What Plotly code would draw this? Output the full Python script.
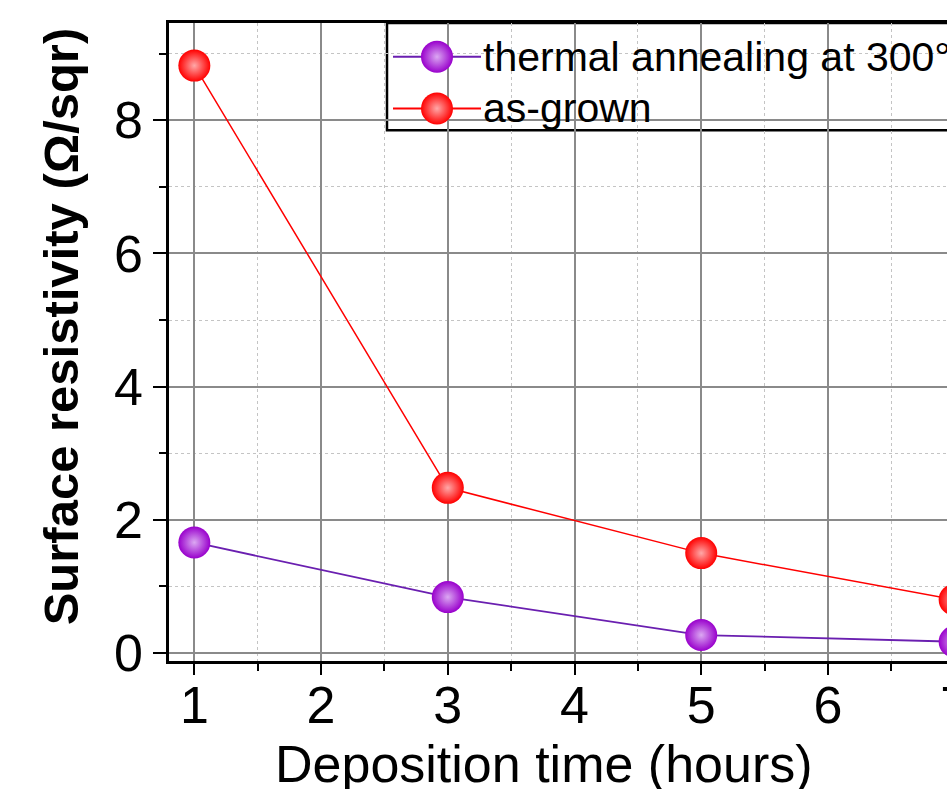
import plotly.graph_objects as go

# ---- data ----
hours = [1, 3, 5, 7]
annealed = [1.66, 0.84, 0.27, 0.17]
as_grown = [8.82, 2.48, 1.50, 0.80]
series_names = ["thermal annealing at 300°C", "as-grown"]
x_ticks = [1, 2, 3, 4, 5, 6, 7]
y_ticks = [0, 2, 4, 6, 8]

PURPLE = "#9900CC"
PURPLE_LINE = "#6A1FB0"
RED = "#FF0000"
FONT = "Liberation Sans, Arial, sans-serif"

# layout geometry (pixels); figure is wider than the 947px window, as the reference is cropped
FIG_W, FIG_H = 980, 789
M_L, M_R, M_T, M_B = 169, 0, 23, 128
PLOT_W = FIG_W - M_L - M_R


def fx(px):
    return (px - M_L) / PLOT_W


fig = go.Figure()

fig.add_trace(go.Scatter(
    x=hours, y=annealed, mode="lines+markers", name=series_names[0],
    line=dict(color=PURPLE_LINE, width=1.8),
    marker=dict(size=32, color=PURPLE, gradient=dict(type="radial", color="#dba8f2")),
    showlegend=False))
fig.add_trace(go.Scatter(
    x=hours, y=as_grown, mode="lines+markers", name=series_names[1],
    line=dict(color=RED, width=1.5),
    marker=dict(size=32, color=RED, gradient=dict(type="radial", color="#ffa8a8")),
    showlegend=False))

# ---- custom legend (glyphs on an overlay axis spanning the plot area) ----
leg_rows = [0.947, 0.866]
leg_line = [fx(393), fx(481)]
leg_marker_x = fx(437)
for row, name, col, lcol, gcol in [
        (leg_rows[0], series_names[0], PURPLE, PURPLE_LINE, "#dba8f2"),
        (leg_rows[1], series_names[1], RED, RED, "#ffa8a8")]:
    fig.add_trace(go.Scatter(
        x=leg_line, y=[row, row], mode="lines", xaxis="x2", yaxis="y2",
        line=dict(color=lcol, width=2), showlegend=False, hoverinfo="skip"))
    fig.add_trace(go.Scatter(
        x=[leg_marker_x], y=[row], mode="markers", xaxis="x2", yaxis="y2",
        marker=dict(size=32, color=col, gradient=dict(type="radial", color=gcol)),
        showlegend=False, hoverinfo="skip"))
    fig.add_annotation(x=leg_line[1], y=row, xref="x2", yref="y2", text=name,
                       showarrow=False, xanchor="left", yanchor="middle",
                       font=dict(family=FONT, size=41, color="black"))

fig.add_shape(type="rect", xref="paper", yref="paper", x0=fx(387), x1=1.2, y0=0.832, y1=1.0,
              line=dict(color="black", width=2.5), fillcolor="white", layer="between")

axis_common = dict(
    showline=True, linecolor="black", linewidth=2.5,
    ticks="outside", tickcolor="black", tickwidth=2,
    showgrid=True, gridcolor="#8a8a8a", gridwidth=1.5, zeroline=False,
    tickfont=dict(family=FONT, size=52, color="black"),
)

fig.update_layout(
    width=FIG_W, height=FIG_H,
    margin=dict(l=M_L, r=M_R, t=M_T, b=M_B),
    paper_bgcolor="white", plot_bgcolor="white",
    showlegend=False,
    xaxis=dict(range=[0.8, 7.2], tickvals=x_ticks, ticklen=11, mirror=True,
               ticklabelstandoff=-14,
               minor=dict(dtick=0.5, ticklen=7, tickcolor="black", showgrid=True,
                          gridcolor="#c4c4c4", griddash="dot", gridwidth=1.2),
               **axis_common),
    yaxis=dict(range=[-0.12, 9.46], tickvals=y_ticks, ticklen=13,
               minor=dict(dtick=1, ticklen=7, tickcolor="black", showgrid=True,
                          gridcolor="#c4c4c4", griddash="dot", gridwidth=1.2),
               **axis_common),
    xaxis2=dict(range=[0, 1], overlaying="x", visible=False, fixedrange=True),
    yaxis2=dict(range=[0, 1], overlaying="y", visible=False, fixedrange=True),
)

fig.add_annotation(text="Surface resistivity (Ω/sqr)", xref="paper", yref="paper",
                   x=fx(61), y=0.5245, textangle=-90, showarrow=False,
                   xanchor="center", yanchor="middle",
                   font=dict(family=FONT, size=49, color="black", weight="bold"))
fig.add_annotation(text="Deposition time (hours)", xref="paper", yref="paper",
                   x=fx(544), y=-0.162, showarrow=False, xanchor="center", yanchor="middle",
                   font=dict(family=FONT, size=52, color="black"))

fig.write_html("out.html", config={"displayModeBar": False},
               post_script="document.body.style.margin='0';document.body.style.overflow='hidden';")
